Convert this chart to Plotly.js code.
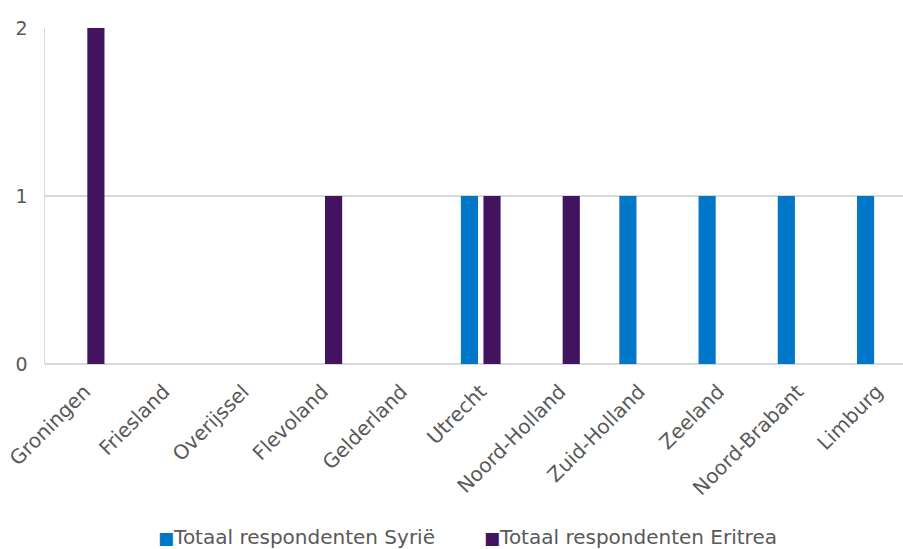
<!DOCTYPE html>
<html>
<head>
<meta charset="utf-8">
<script src="https://cdn.plot.ly/plotly-3.0.1.min.js"></script>
<style>html,body{margin:0;padding:0;background:#fff;}#chart{width:903px;height:549px;}</style>
</head>
<body>
<div id="chart"></div>
<script>
const categories = ["Groningen","Friesland","Overijssel","Flevoland","Gelderland","Utrecht","Noord-Holland","Zuid-Holland","Zeeland","Noord-Brabant","Limburg"];
const syrieValues = [0,0,0,0,0,1,0,1,1,1,1];
const eritreaValues = [2,0,0,1,0,1,1,0,0,0,0];
const seriesNames = ["Totaal respondenten Syrië","Totaal respondenten Eritrea"];
const seriesColors = ["#0077C8","#42145F"];
const yTicks = [0,1,2];

const font = "DejaVu Sans, Verdana, sans-serif";
const data = [
  {type:"bar", x:categories, y:syrieValues, name:seriesNames[0], marker:{color:seriesColors[0]}},
  {type:"bar", x:categories, y:eritreaValues, name:seriesNames[1], marker:{color:seriesColors[1]}}
];
const legendX = [0.129, 0.509];
const layout = {
  width:903, height:549,
  margin:{l:45, r:0, t:28, b:185},
  paper_bgcolor:"#fff", plot_bgcolor:"#fff",
  barmode:"group", bargap:0.43, bargroupgap:0.24,
  font:{family:font, color:"#595959", size:15},
  xaxis:{type:"category", range:[-0.5,10.33], tickangle:-45, showgrid:false,
         showline:false, ticks:"", ticklabelstandoff:11, tickfont:{size:20, color:"#595959"}},
  yaxis:{range:[0,2], tickvals:yTicks, ticktext:yTicks.map(String), showgrid:true, gridcolor:"#D9D9D9",
         gridwidth:1.5, zeroline:true, zerolinecolor:"#D9D9D9", zerolinewidth:1.5,
         showline:true, linecolor:"#D9D9D9", linewidth:1.5, ticks:"", ticklen:0,
         ticklabelstandoff:12, tickfont:{size:19, color:"#595959"}},
  showlegend:false,
  annotations: seriesNames.map((n,i)=>({
    xref:"paper", yref:"paper", x:legendX[i], xanchor:"left", y:-0.515, yanchor:"middle",
    showarrow:false, font:{size:20, color:"#595959", family:font},
    text:"<span style='color:"+seriesColors[i]+";font-size:17px'>■</span>"+n
  }))
};
Plotly.newPlot("chart", data, layout, {displayModeBar:false, staticPlot:true});
</script>
</body>
</html>
